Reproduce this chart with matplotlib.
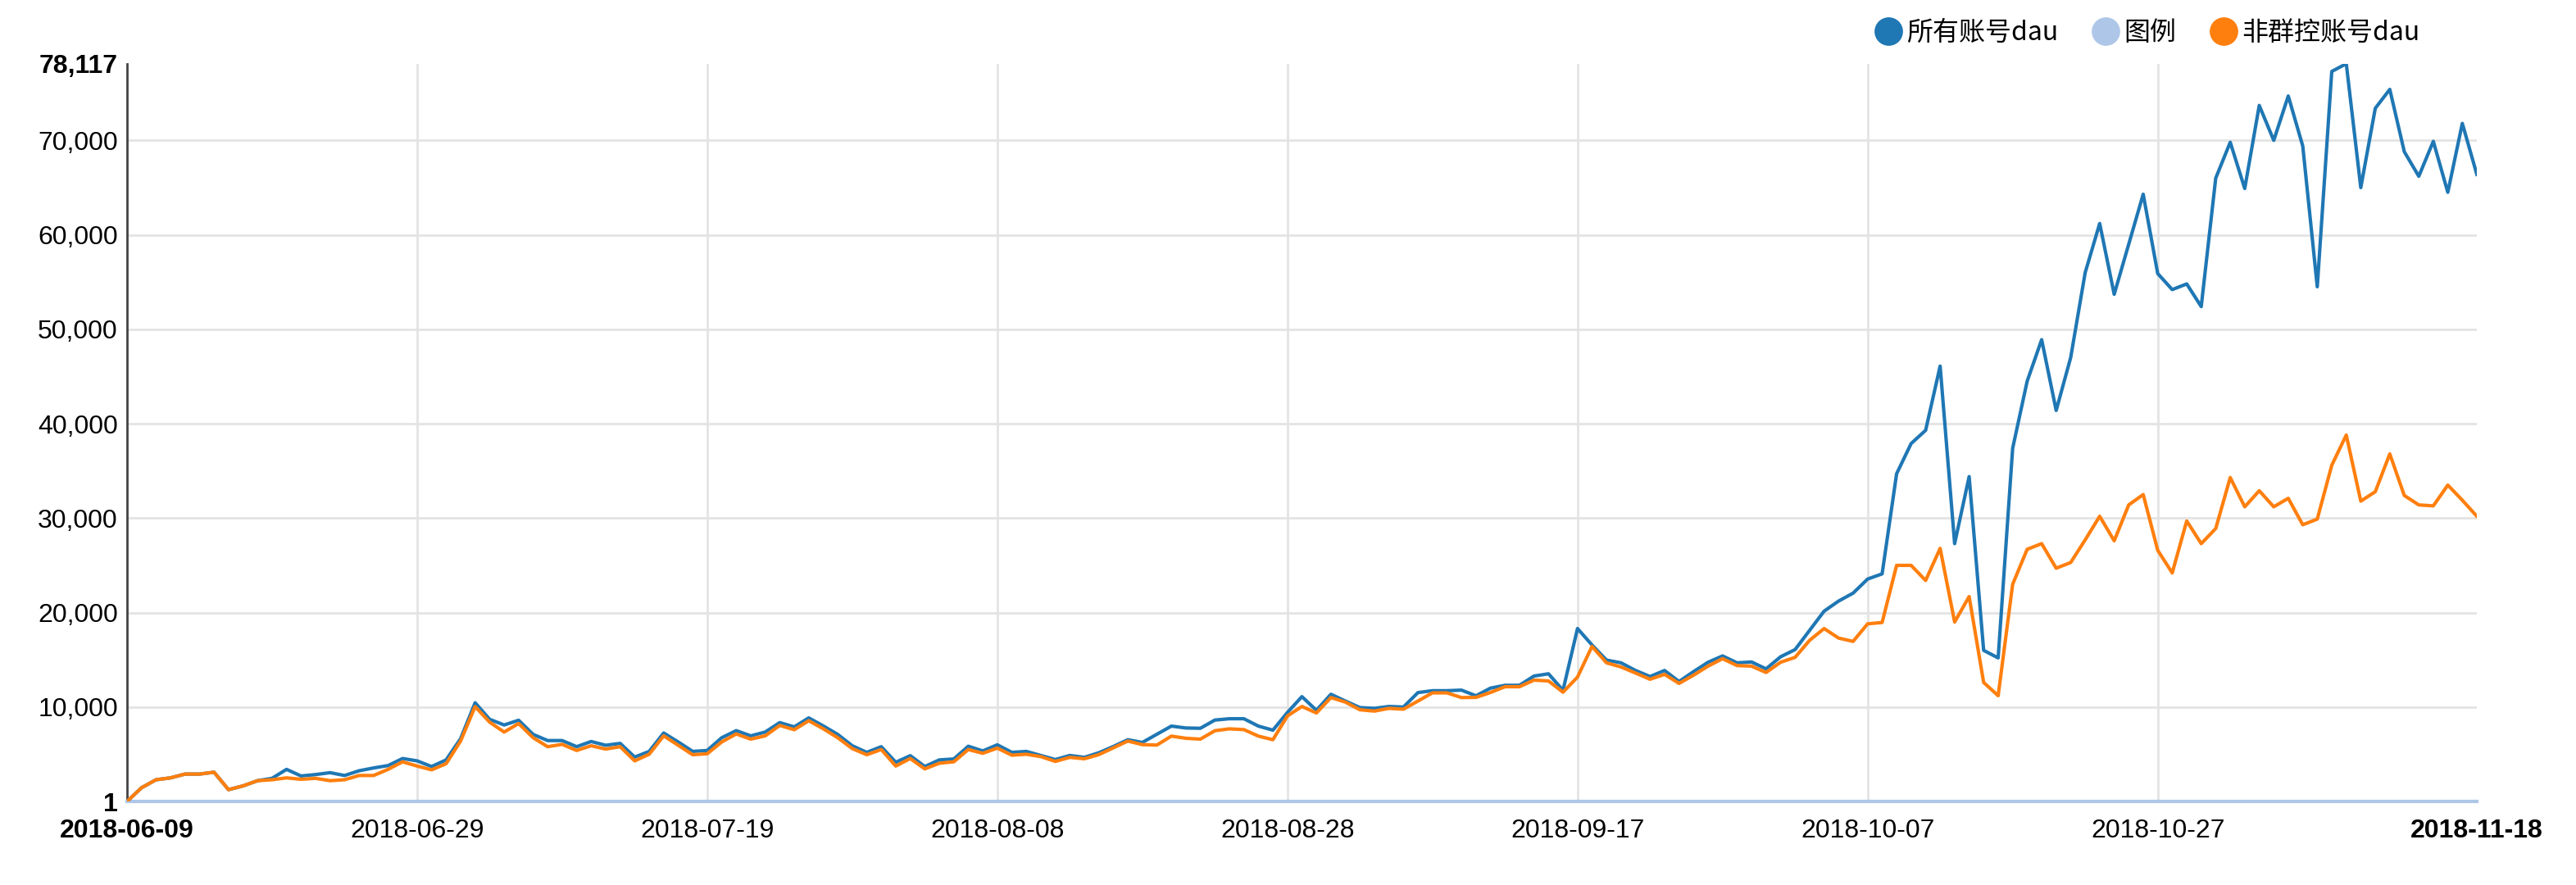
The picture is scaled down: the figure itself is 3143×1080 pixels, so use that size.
import matplotlib
matplotlib.use("Agg")
import matplotlib.pyplot as plt
from matplotlib.lines import Line2D
import pandas as pd

# ------------------------------------------------------------------
# data (daily, 2018-06-09 .. 2018-11-18)
# ------------------------------------------------------------------
START_DATE = "2018-06-09"
END_DATE = "2018-11-18"

dau_all = [
    1, 1450, 2300, 2500, 2900, 2900, 3100, 1250, 1650, 2200,
    2450, 3400, 2700, 2850, 3050, 2750, 3250, 3550, 3800, 4550,
    4300, 3700, 4400, 6650, 10450, 8700, 8100, 8600, 7100, 6450,
    6450, 5800, 6350, 5950, 6150, 4700, 5300, 7250, 6300, 5300,
    5400, 6750, 7500, 6950, 7350, 8350, 7900, 8850, 8000, 7100,
    5900, 5200, 5800, 4150, 4850, 3700, 4400, 4500, 5850, 5350,
    6000, 5200, 5300, 4870, 4440, 4870, 4670, 5160, 5820, 6540,
    6250, 7120, 7980, 7780, 7750, 8620, 8760, 8760, 7980, 7550,
    9420, 11100, 9650, 11350, 10630, 9940, 9860, 10060, 10000, 11530,
    11730, 11730, 11790, 11190, 12000, 12300, 12300, 13280, 13520, 11770,
    18310, 16570, 14970, 14680, 13870, 13230, 13870, 12700, 13750, 14740,
    15410, 14680, 14770, 14040, 15320, 16080, 18110, 20150, 21220, 22060,
    23550, 24100, 34700, 37900, 39300, 46100, 27300, 34400, 16000, 15200,
    37400, 44500, 48900, 41400, 47000, 56000, 61200, 53700, 59000, 64300,
    55900, 54200, 54800, 52400, 66000, 69800, 64900, 73700, 70000, 74700,
    69400, 54500, 77300, 78117, 65000, 73400, 75400, 68800, 66200, 69900,
    64500, 71800, 66400,
]

dau_non_group = [
    1, 1450, 2300, 2500, 2900, 2900, 3100, 1250, 1650, 2200,
    2300, 2500, 2350, 2450, 2200, 2300, 2750, 2750, 3400, 4200,
    3750, 3350, 4000, 6400, 10050, 8400, 7350, 8250, 6750, 5800,
    6050, 5400, 5900, 5550, 5800, 4300, 5000, 6950, 5950, 4950,
    5050, 6300, 7150, 6600, 6950, 8050, 7600, 8550, 7700, 6750,
    5600, 4950, 5500, 3750, 4550, 3450, 4050, 4200, 5500, 5100,
    5650, 4900, 5000, 4750, 4240, 4670, 4520, 4960, 5680, 6400,
    6020, 5970, 6920, 6690, 6600, 7490, 7690, 7610, 6920, 6540,
    9050, 10060, 9370, 11000, 10520, 9710, 9570, 9860, 9770, 10630,
    11500, 11500, 11000, 11020, 11540, 12150, 12150, 12850, 12760, 11570,
    13170, 16420, 14680, 14240, 13600, 12940, 13460, 12500, 13370, 14330,
    15120, 14390, 14330, 13660, 14740, 15260, 17060, 18310, 17300, 16950,
    18810, 18950, 25000, 25000, 23400, 26800, 19000, 21700, 12600, 11200,
    23000, 26700, 27300, 24700, 25300, 27700, 30200, 27600, 31400, 32500,
    26600, 24200, 29700, 27300, 28900, 34300, 31200, 32900, 31200, 32100,
    29300, 29900, 35600, 38800, 31800, 32800, 36800, 32400, 31400, 31300,
    33500, 31900, 30200,
]

SERIES_NAMES = ["所有账号dau", "图例", "非群控账号dau"]
SERIES_COLORS = ["#1f77b4", "#aec7e8", "#ff7f0e"]

Y_TICKS = [1, 10000, 20000, 30000, 40000, 50000, 60000, 70000, 78117]

dates = pd.date_range(START_DATE, END_DATE, freq="D")
# every 20 days up to 10-27, then the last day
x_ticks = list(dates[:141:20]) + [dates[-1]]

# ------------------------------------------------------------------
# figure
# ------------------------------------------------------------------
plt.rcParams["font.family"] = ["Liberation Sans", "DejaVu Sans"]

fig = plt.figure(figsize=(31.43, 10.8), dpi=100)
ax = fig.add_axes([0.0493, 0.0944, 0.9122, 0.8336])

ax.plot(dates, dau_all, color=SERIES_COLORS[0], linewidth=3.0, zorder=3)
ax.plot(dates, dau_non_group, color=SERIES_COLORS[2], linewidth=3.0, zorder=4)

ax.set_xlim(dates[0], dates[-1])
ax.set_ylim(Y_TICKS[0], Y_TICKS[-1])

ax.set_xticks(x_ticks)
ax.set_xticklabels([d.strftime("%Y-%m-%d") for d in x_ticks])
ax.set_yticks(Y_TICKS)
ax.set_yticklabels([f"{v:,}" for v in Y_TICKS])

ax.tick_params(axis="both", length=0, labelsize=23, colors="black")
ax.tick_params(axis="x", pad=15)
ax.tick_params(axis="y", pad=8)

# first / last labels are bold
for lab in (ax.get_xticklabels()[0], ax.get_xticklabels()[-1],
            ax.get_yticklabels()[0], ax.get_yticklabels()[-1]):
    lab.set_fontweight("bold")

# grid only on inner ticks
ax.grid(True, color="#e3e3e3", linewidth=2, zorder=0)
for gl in (ax.xaxis.get_gridlines()[0], ax.xaxis.get_gridlines()[-1],
           ax.yaxis.get_gridlines()[0], ax.yaxis.get_gridlines()[-1]):
    gl.set_visible(False)
ax.set_axisbelow(True)

for side in ("top", "right"):
    ax.spines[side].set_visible(False)
ax.spines["left"].set_color("#444444")
ax.spines["left"].set_linewidth(2)
ax.spines["bottom"].set_color("#aec7e8")
ax.spines["bottom"].set_linewidth(3)

# legend
handles = [Line2D([], [], linestyle="none", marker="o", markersize=24,
                  markerfacecolor=c, markeredgecolor=c) for c in SERIES_COLORS]
fig.legend(handles, SERIES_NAMES, loc="upper right", bbox_to_anchor=(0.947, 1.0),
           ncol=3, frameon=False, handlelength=1.0, handletextpad=0.2,
           columnspacing=1.3, borderaxespad=0.35,
           prop={"family": ["Noto Sans CJK SC", "DejaVu Sans"], "size": 23})

fig.savefig("out.png", dpi=100, facecolor="white")
